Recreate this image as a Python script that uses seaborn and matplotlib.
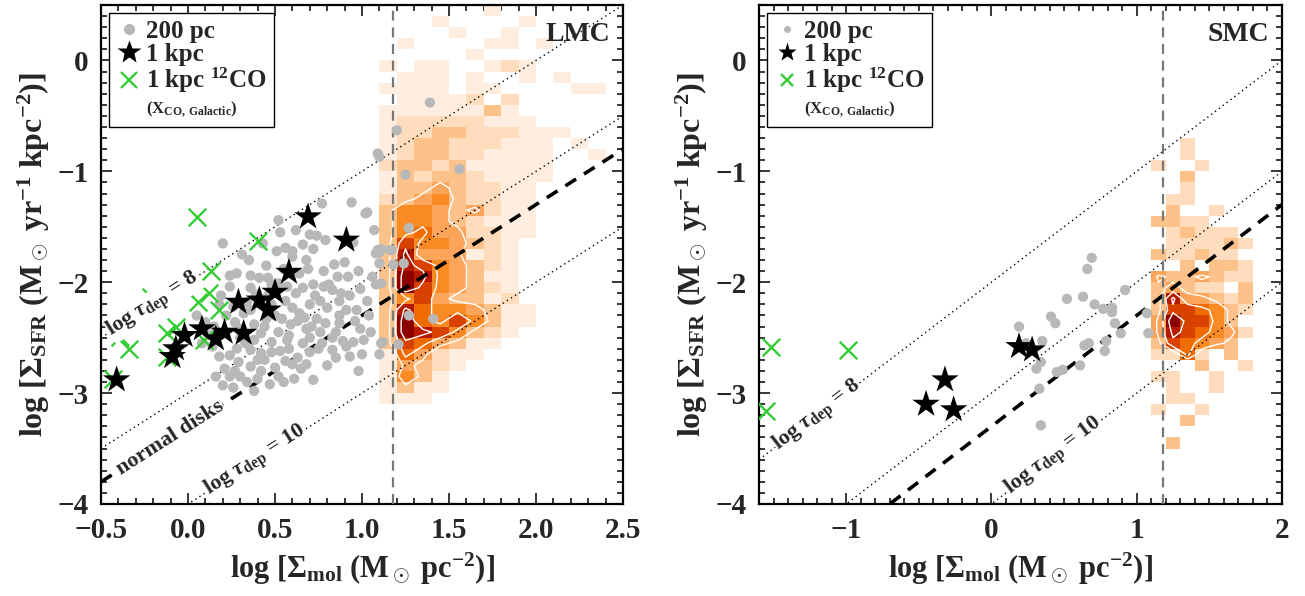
import numpy as np
import pandas as pd
import matplotlib
matplotlib.use("Agg")
import matplotlib.pyplot as plt
from matplotlib.colors import LinearSegmentedColormap
from matplotlib.lines import Line2D
from matplotlib.ticker import MultipleLocator, FuncFormatter
import seaborn as sns

# ---------------- data ----------------
# LMC, 200 pc apertures (grey dots)
lmc_200_x = [1.39, 1.20, 1.09, 1.10, 1.25, 1.56, 1.03,
             0.94, 0.77, 0.52, 0.62, 0.53, 0.70, 0.74, 0.79, 0.95, 1.02, 1.07, 0.20,
             0.56, 0.66, 0.72, 0.60, 1.09, 1.11, 1.16, 1.27,
             1.08, 1.10, 1.17, 1.10, 1.18, 1.24, 1.08, 1.11, 1.27, 1.41, 1.12, 1.21,
             0.60, 0.68, 0.84, 0.90, 0.98, 0.28, 0.24, 0.36, 0.41, 0.46, 0.48, 0.52,
             0.57, 0.66, 0.72, 0.78, 0.83, 0.88, 0.93, 0.99, 0.36, 0.39, 0.24, 0.19,
             0.18, 0.26, 0.32, 0.36, 0.48, 0.56, 0.60, 0.64, 0.70, 0.76, 0.80, 0.87,
             0.91, 0.54, 0.59, 0.68, 0.76, 0.83, 0.95, 1.11, 0.93, 0.75, 0.66, 0.57,
             0.48, 0.42, 0.38, 0.36, 0.42, 0.48, 0.18, 0.24, 0.29, 0.36, 0.42, 0.50,
             0.60, 0.68, 0.63, 0.21, 0.24, 0.30, 0.20, 0.34, 0.40, 0.52, 0.61, 0.56,
             0.85, 0.83, 0.91, 1.01, 0.74, 0.87, 0.99, 0.87, 0.10, 0.12,
             0.30, 0.27, 0.45, 0.52, 0.63, 0.70, 0.79, 0.44, 0.33, 0.26, 0.14, 0.05,
             0.97, 1.03, 0.45, 0.35, 0.64, 0.78, 0.55, 1.00, 1.10, 0.70, 0.58,
             0.15, 0.22, 0.28, 0.31, 0.34, 0.38, 0.40, 0.44, 0.46, 0.50, 0.53, 0.55,
             0.58, 0.62, 0.65, 0.67, 0.71, 0.73, 0.77, 0.81, 0.85, 0.89, 0.92, 0.96,
             1.04, 1.06, 0.16, 0.27, 0.47, 0.38, 0.69, 0.51, 0.43, 0.31, 0.86, 1.05,
             0.98, 0.80, 0.72, 0.08]
lmc_200_y = [-0.38, -0.63, -0.84, -0.87, -1.03, -0.98, -1.37,
             -1.28, -1.29, -1.44, -1.53, -1.55, -1.57, -1.58, -1.62, -1.64, -1.38, -1.53, -1.65,
             -1.69, -1.66, -1.70, -1.72, -1.71, -1.70, -1.71, -1.51,
             -1.74, -1.73, -1.71, -1.83, -1.84, -1.83, -2.02, -2.01, -2.30, -2.33, -2.54, -2.56,
             -1.77, -1.80, -1.84, -1.82, -1.90, -1.92, -1.94, -1.94, -1.96, -1.96, -2.02, -2.01,
             -2.04, -2.05, -2.02, -2.04, -2.07, -2.10, -2.12, -2.06, -2.05, -2.11, -2.04, -2.12,
             -2.20, -2.22, -2.28, -2.25, -2.20, -2.17, -2.23, -2.28, -2.20, -2.17, -2.23, -2.17,
             -2.25, -2.33, -2.38, -2.42, -2.45, -2.50, -2.54, -2.55, -2.67, -2.60, -2.55, -2.52,
             -2.54, -2.46, -2.38, -2.61, -2.64, -2.63, -2.67, -2.66, -2.72, -2.76, -2.80, -2.77,
             -2.74, -2.74, -2.68, -2.78, -2.85, -2.85, -2.93, -2.90, -2.87, -2.85, -2.87, -2.71,
             -2.68, -2.61, -2.58, -2.52, -2.33, -2.37, -2.42, -2.30, -2.36, -2.48,
             -2.50, -2.36, -2.33, -2.45, -2.35, -2.50, -2.37, -2.70, -2.55, -2.95, -2.58, -2.30,
             -2.25, -2.17, -1.85, -1.80, -1.92, -1.90, -1.88, -2.65, -2.65, -2.63, -2.60,
             -2.40, -2.30, -2.60, -2.42, -2.18, -2.52, -2.70, -2.40, -2.12, -2.30, -2.62, -2.90,
             -2.48, -2.10, -2.78, -2.32, -2.40, -2.12, -2.55, -2.02, -2.45, -2.53, -1.95, -2.35,
             -2.30, -1.95, -2.85, -2.80, -2.92, -2.98, -1.88, -1.72, -1.65, -1.75, -1.95, -2.45,
             -2.80, -2.75, -2.88, -2.55]

# LMC, 1 kpc apertures (black stars)
lmc_1k_x = [-0.41, -0.09, -0.07, -0.02, 0.08, 0.16, 0.21, 0.32, 0.29, 0.41, 0.46, 0.50, 0.58, 0.69, 0.91]
lmc_1k_y = [-2.88, -2.67, -2.60, -2.48, -2.42, -2.51, -2.45, -2.46, -2.18, -2.16, -2.25, -2.09, -1.91, -1.41, -1.62]

# LMC, 1 kpc from 12CO with Galactic X_CO (green crosses)
lmc_co_x = [0.05, 0.40, 0.13, 0.12, 0.06, 0.18, -0.21, -0.39, -0.34, -0.12, -0.07, -0.12, 0.09, -0.43]
lmc_co_y = [-1.41, -1.63, -1.90, -2.10, -2.18, -2.25, -2.13, -2.49, -2.60, -2.46, -2.40, -2.67, -2.52, -2.87]

# SMC
smc_200_x = [0.69, 0.66, 0.92, 0.63, 0.52, 0.71, 0.77, 0.83, 0.83, 0.41, 0.44, 0.85, 0.89, 1.08,
             0.19, 0.35, 0.67, 0.64, 0.79, 0.78, 0.24, 0.34, 0.31, 0.61, 0.49, 0.45, 0.33, 0.34, 1.07]
smc_200_y = [-1.78, -1.88, -2.07, -2.13, -2.15, -2.20, -2.24, -2.23, -2.27, -2.31, -2.37, -2.37, -2.46, -2.46,
             -2.40, -2.53, -2.55, -2.57, -2.53, -2.62, -2.55, -2.72, -2.78, -2.75, -2.79, -2.81, -2.96, -3.29, -2.28]
smc_1k_x = [0.19, 0.28, -0.32, -0.45, -0.26]
smc_1k_y = [-2.58, -2.61, -2.88, -3.10, -3.15]
smc_co_x = [-1.52, -0.99, -1.55]
smc_co_y = [-2.58, -2.61, -3.16]

# pixel maps (0.1 dex bins, relative density 0-9), top row first
lmc_map_x0, lmc_map_ytop = 1.1, 0.5
lmc_map_rows = [
    "0000001000000", "0001000010000", "0000100100000", "0100001101000",
    "0000010000000", "1011001210000", "0111010010100", "1111011000011",
    "0111120200000", "1111113100000", "1222221110000", "1223322211100",
    "1233222111010", "1233221111001", "2332311111000", "1323321111000",
    "1334322110000", "2345322110000", "3554342110000", "3554321110000",
    "3564422110000", "3755432100000", "3844412100000", "3875432100000",
    "3985431100000", "3975432100000", "3574331200000", "3865543110000",
    "3965753110000", "3987532100000", "3764311000000", "1642110000000",
    "1432100000000", "1531000000000", "1311000000000", "1110000000000",
]
smc_map_x0, smc_map_ytop = 1.1, -0.7
smc_map_rows = [
    "0020000", "0020000", "2002000", "0030000", "0020000", "0220000",
    "0300200", "3322000", "0232220", "0222232", "3223220", "0030332",
    "4334322", "3432203", "3844323", "3776532", "4977530", "4876542",
    "3765430", "2262030", "0003002", "2200200", "0200200", "0220000",
    "2002000", "0030000", "0000000", "0300000",
]

log_tau_lines = [8, 9, 10]      # dotted
log_tau_normal = 9.3            # dashed, normal disks
co_limit = 1.18                 # vertical grey dashed line

# ---------------- style ----------------
sns.set_theme(style="ticks")
plt.rcParams['font.family'] = ['Liberation Serif', 'DejaVu Serif']
plt.rcParams['font.weight'] = 'bold'
plt.rcParams['mathtext.fontset'] = 'custom'
plt.rcParams['mathtext.rm'] = 'Liberation Serif:bold'
plt.rcParams['mathtext.bf'] = 'Liberation Serif:bold'
plt.rcParams['mathtext.it'] = 'Liberation Serif:bold:italic'

cmap = LinearSegmentedColormap.from_list(
    "idlheat", ['#ffffff', '#ffeedf', '#fedcbb', '#fdc28a', '#fca459',
                '#f98a24', '#f06c00', '#d94200', '#b81800', '#8c0000'])

GREY = '#b8b8b8'
GREEN = '#33cc33'


def fmt(decimals):
    return FuncFormatter(lambda v, p: f'{v:.{decimals}f}'.replace('-', '\u2212'))


def draw_map(ax, rows, x0, ytop):
    z = np.array([[int(c) for c in r] for r in rows], dtype=float)
    ny, nx = z.shape
    xe = x0 + 0.1 * np.arange(nx + 1)
    ye = ytop - 0.1 * np.arange(ny + 1)
    zm = np.ma.masked_where(z == 0, z)
    ax.pcolormesh(xe, ye, zm, cmap=cmap, vmin=0, vmax=9, zorder=1)
    # white contours on padded grid
    zp = np.pad(z, 1)
    xc = x0 - 0.05 + 0.1 * np.arange(nx + 2)
    yc = ytop + 0.05 - 0.1 * np.arange(ny + 2)
    ax.contour(xc, yc, zp, levels=[3.5, 5.5, 7.5], colors='white',
               linewidths=1.0, zorder=2)


def tau_label(ax, x, logtau, text, size=16):
    ax.text(x, x + 6 - logtau, text, rotation=45, transform_rotates_text=True,
            rotation_mode='anchor', ha='center', va='center', fontsize=size,
            fontweight='bold', zorder=6,
            bbox=dict(facecolor='white', edgecolor='none', pad=0.2))


def panel(ax, name, xlim, p200, p1k, pco, rows, x0, ytop, labels, leg_sizes):
    draw_map(ax, rows, x0, ytop)
    xx = np.array(xlim)
    for lt in log_tau_lines:
        ax.plot(xx, xx + 6 - lt, color='black', lw=1.0, ls=(0, (1, 2.5)), zorder=3)
    ax.plot(xx, xx + 6 - log_tau_normal, color='black', lw=2.6, ls=(0, (3.5, 2.6)), zorder=3)
    ax.axvline(co_limit, color='#777777', lw=1.6, ls=(0, (4.5, 3)), zorder=3)

    d200 = pd.DataFrame({'x': p200[0], 'y': p200[1]})
    d1k = pd.DataFrame({'x': p1k[0], 'y': p1k[1]})
    dco = pd.DataFrame({'x': pco[0], 'y': pco[1]})
    sns.scatterplot(data=d200, x='x', y='y', ax=ax, s=55, color=GREY,
                    edgecolor='none', legend=False, zorder=4)
    sns.scatterplot(data=dco, x='x', y='y', ax=ax, s=160, marker='x', color=GREEN,
                    linewidth=1.7, legend=False, zorder=5)
    sns.scatterplot(data=d1k, x='x', y='y', ax=ax, s=430, marker='*', color='black',
                    edgecolor='none', legend=False, zorder=5)

    for (x, lt, txt) in labels:
        tau_label(ax, x, lt, txt)

    ax.set_xlim(*xlim)
    ax.set_ylim(-4, 0.5)
    ax.yaxis.set_major_locator(MultipleLocator(1))
    ax.yaxis.set_minor_locator(MultipleLocator(0.1))
    ax.xaxis.set_minor_locator(MultipleLocator(0.1))
    ax.yaxis.set_major_formatter(fmt(0))
    ax.tick_params(which='both', direction='in', top=True, right=True,
                   labelsize=21, width=1.3, pad=9)
    ax.tick_params(which='major', length=8)
    ax.tick_params(which='minor', length=4)
    for s in ax.spines.values():
        s.set_linewidth(1.6)
        s.set_color('black')
    ax.set_xlabel(r'log [$\Sigma_{\rm mol}$ (M$_\odot$ pc$^{-2}$)]', fontsize=22,
                  fontweight='bold', labelpad=5)
    ax.set_ylabel(r'log [$\Sigma_{\rm SFR}$ (M$_\odot$ yr$^{-1}$ kpc$^{-2}$)]', fontsize=23,
                  fontweight='bold', labelpad=4)
    ax.text(0.975, 0.965, name, transform=ax.transAxes, ha='right', va='top',
            fontsize=20, fontweight='bold', zorder=7)

    ms_dot, ms_star, ms_x = leg_sizes
    handles = [Line2D([], [], ls='none', marker='o', ms=ms_dot, color=GREY, mec='none'),
               Line2D([], [], ls='none', marker='*', ms=ms_star, color='black', mec='none'),
               Line2D([], [], ls='none', marker='x', ms=ms_x, mew=1.7, color=GREEN),
               Line2D([], [], ls='none')]
    leg = ax.legend(handles, ['200 pc', '1 kpc', r'1 kpc $^{12}$CO',
                              r'(X$_{\rm CO,\ Galactic}$)'],
                    loc='upper left', fontsize=18, frameon=True, fancybox=False,
                    edgecolor='black', framealpha=1, handlelength=1.0,
                    handletextpad=0.2, labelspacing=0.0, borderpad=0.3,
                    borderaxespad=0.3)
    leg.get_frame().set_linewidth(1.0)
    leg.get_texts()[3].set_fontsize(12)
    leg.set_zorder(8)
    for t in leg.get_texts():
        t.set_fontweight('bold')


fig = plt.figure(figsize=(13.05, 5.96), dpi=100)
ax1 = fig.add_axes([101 / 1305, 92 / 596, 522 / 1305, 499 / 596])
ax2 = fig.add_axes([759 / 1305, 92 / 596, 523 / 1305, 499 / 596])

panel(ax1, 'LMC', (-0.5, 2.5), (lmc_200_x, lmc_200_y), (lmc_1k_x, lmc_1k_y),
      (lmc_co_x, lmc_co_y), lmc_map_rows, lmc_map_x0, lmc_map_ytop,
      [(-0.2, 8, r'log $\tau_{\rm dep}$ = 8'), (-0.1, log_tau_normal, 'normal disks'),
       (0.39, 10, r'log $\tau_{\rm dep}$ = 10')], (8, 18, 11))
ax1.xaxis.set_major_locator(MultipleLocator(0.5))
ax1.xaxis.set_major_formatter(fmt(1))

panel(ax2, 'SMC', (-1.6, 2.0), (smc_200_x, smc_200_y), (smc_1k_x, smc_1k_y),
      (smc_co_x, smc_co_y), smc_map_rows, smc_map_x0, smc_map_ytop,
      [(-1.2, 8, r'log $\tau_{\rm dep}$ = 8'), (0.43, 10, r'log $\tau_{\rm dep}$ = 10')],
      (5, 14, 9))
ax2.xaxis.set_major_locator(MultipleLocator(1))
ax2.xaxis.set_major_formatter(fmt(0))

for ax in (ax1, ax2):
    for lab in ax.get_xticklabels() + ax.get_yticklabels():
        lab.set_fontweight('bold')

fig.savefig('out.png', dpi=100)
